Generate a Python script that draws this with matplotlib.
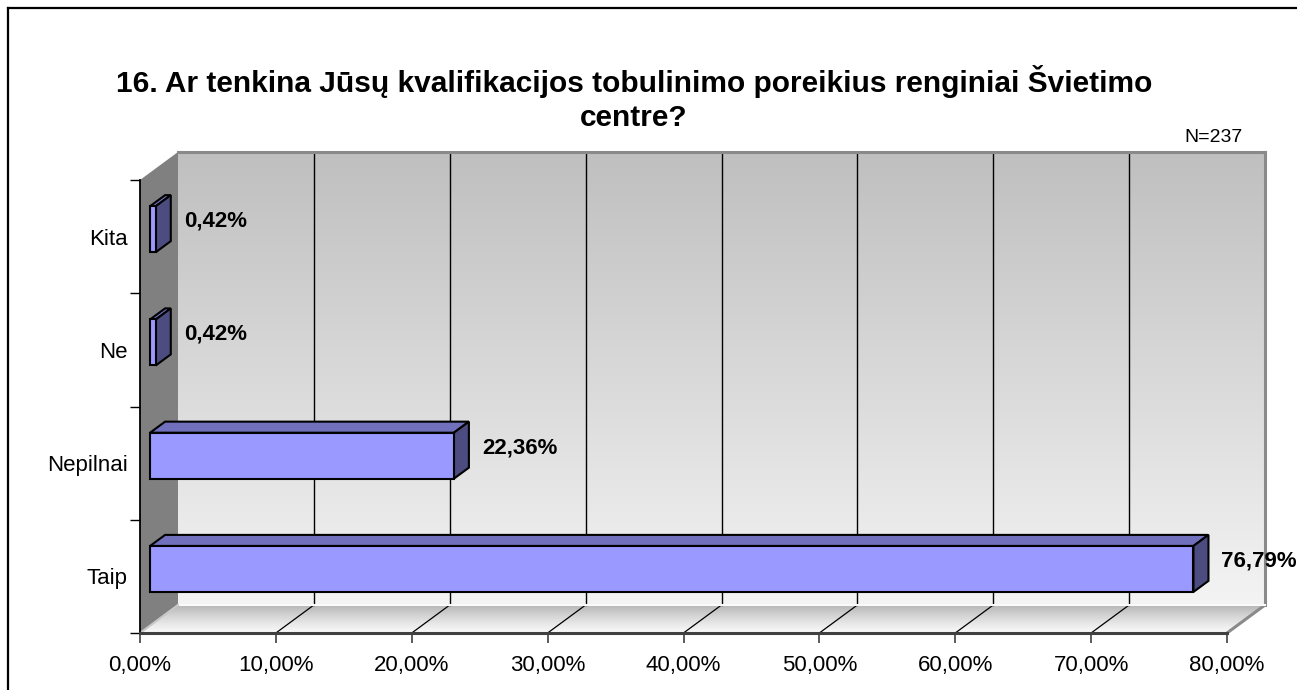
import matplotlib
matplotlib.use("Agg")
import matplotlib.pyplot as plt
import numpy as np
from matplotlib.patches import Polygon
from matplotlib.collections import PolyCollection
from matplotlib.transforms import Affine2D, IdentityTransform
from matplotlib.lines import Line2D

# ---------------- data ----------------
categories = ["Taip", "Nepilnai", "Ne", "Kita"]
values = [76.79, 22.36, 0.42, 0.42]
value_labels = ["76,79%", "22,36%", "0,42%", "0,42%"]
x_ticks = [0, 10, 20, 30, 40, 50, 60, 70, 80]
x_tick_labels = ["0,00%", "10,00%", "20,00%", "30,00%", "40,00%",
                 "50,00%", "60,00%", "70,00%", "80,00%"]
title_lines = ["16. Ar tenkina Jūsų kvalifikacijos tobulinimo poreikius renginiai Švietimo",
               "centre?"]
note = "N=237"

# ---------------- style ----------------
plt.rcParams['font.family'] = ['Liberation Sans', 'DejaVu Sans']
W, H = 1297, 690
DPI = 100
fig = plt.figure(figsize=(W / DPI, H / DPI), dpi=DPI)
fig.patch.set_facecolor("white")

ax = fig.add_axes([140 / W, (H - 633) / H, (1227 - 140) / W, (633 - 180) / H])
ax.patch.set_visible(False)

DX, DY = 38.0, 28.0          # depth of 3D box in pixels
BAR_F, BAR_B = 0.265, 0.66   # bar front / back depth fractions
BAR_H = 0.406                # bar thickness in category units

FRONT = "#9999FF"
TOP = "#7070BC"
SIDE = "#4C4C80"

ncat = len(categories)
xmin, xmax = x_ticks[0], x_ticks[-1]
ax.set_xlim(xmin, xmax)
ax.set_ylim(0, ncat)

ID = IdentityTransform()


def P(v, y, d=0.0):
    px, py = ax.transData.transform((v, y))
    return (px + d * DX, py + d * DY)


def poly(pts, **kw):
    p = Polygon(pts, closed=True, transform=ID, clip_on=False, **kw)
    ax.add_artist(p)
    return p


def line(p0, p1, **kw):
    l = Line2D([p0[0], p1[0]], [p0[1], p1[1]], transform=ID, clip_on=False, **kw)
    ax.add_artist(l)
    return l


# back wall gradient (top darker, bottom lighter)
grad = np.linspace(0.955, 0.75, 256).reshape(-1, 1)
ax.imshow(np.dstack([grad, grad, grad]), origin="lower", aspect="auto",
          extent=(xmin, xmax, 0, ncat), interpolation="bilinear",
          transform=ax.transData + Affine2D().translate(DX, DY),
          clip_on=False, zorder=0)
ax.set_xlim(xmin, xmax)
ax.set_ylim(0, ncat)

# floor gradient (back darker, front lighter) as thin strips
NS = 40
strips, cols = [], []
for k in range(NS):
    d0, d1 = k / NS, (k + 1) / NS
    strips.append([P(xmin, 0, d0), P(xmax, 0, d0), P(xmax, 0, d1), P(xmin, 0, d1)])
    g = 0.975 - 0.26 * ((k + 0.5) / NS) ** 1.3
    cols.append((g, g, g))
pc = PolyCollection(strips, facecolors=cols, edgecolors=cols, linewidths=0.6,
                    transform=ID, clip_on=False, zorder=0.5)
ax.add_artist(pc)

# left wall
poly([P(xmin, 0), P(xmin, ncat), P(xmin, ncat, 1), P(xmin, 0, 1)],
     facecolor="#808080", edgecolor="none", zorder=1)

# back wall gridlines
for t in x_ticks[1:-1]:
    line(P(t, 0, 1), P(t, ncat, 1), color="black", lw=1.0, zorder=1.2)
# floor diagonal lines
for t in x_ticks[1:-1]:
    line(P(t, 0), P(t, 0, 1), color="black", lw=0.9, zorder=1.2)

# edges
line(P(xmin, ncat, 1), P(xmax, ncat, 1), color="#8a8a8a", lw=2.2, zorder=1.3)
line(P(xmax, ncat, 1), P(xmax, 0, 1), color="#8a8a8a", lw=2.2, zorder=1.3)
line(P(xmax, 0), P(xmax, 0, 1), color="#8a8a8a", lw=2.2, zorder=1.3)
line(P(xmin, 0, 1), P(xmax, 0, 1), color="#fafafa", lw=1.5, zorder=1.3)
line(P(xmin, 0), P(xmin, 0, 1), color="#c8c8c8", lw=1.5, zorder=1.3)

# bars
for i, v in enumerate(values):
    yb = i + 0.5 - BAR_H / 2
    yt = i + 0.5 + BAR_H / 2
    kw = dict(edgecolor="black", lw=1.5, joinstyle="miter", zorder=3)
    poly([P(0, yt, BAR_F), P(v, yt, BAR_F), P(v, yt, BAR_B), P(0, yt, BAR_B)],
         facecolor=TOP, **kw)
    poly([P(v, yb, BAR_F), P(v, yb, BAR_B), P(v, yt, BAR_B), P(v, yt, BAR_F)],
         facecolor=SIDE, **kw)
    poly([P(0, yb, BAR_F), P(v, yb, BAR_F), P(v, yt, BAR_F), P(0, yt, BAR_F)],
         facecolor=FRONT, **kw)
    bx, _ = P(v, i + 0.5, BAR_B)
    _, by = P(v, i + 0.5, BAR_F)
    fig.text(bx + 13, by + 8, value_labels[i], transform=ID, ha="left", va="center",
             fontsize=16, fontweight="bold", color="black", zorder=4)

# axes, ticks
for s in ("top", "right"):
    ax.spines[s].set_visible(False)
ax.spines["bottom"].set_color("#404040")
ax.spines["bottom"].set_linewidth(2.2)
ax.spines["left"].set_color("black")
ax.spines["left"].set_linewidth(1.3)
ax.spines["bottom"].set_zorder(2)
ax.spines["left"].set_zorder(2)

ax.set_xticks(x_ticks)
ax.set_xticklabels(x_tick_labels)
ax.tick_params(axis="x", direction="out", length=7, width=1.2, color="#404040",
               labelsize=16, pad=9)
ax.set_yticks(range(ncat + 1))
ax.set_yticklabels([""] * (ncat + 1))
ax.tick_params(axis="y", which="major", direction="out", length=7, width=1, color="black")
ax.set_yticks([i + 0.5 for i in range(ncat)], minor=True)
ax.set_yticklabels(categories, minor=True)
ax.tick_params(axis="y", which="minor", length=0, labelsize=16, pad=9)

# title and note
fig.text(634 / W, 1 - 82 / H, title_lines[0], ha="center", va="center",
         fontsize=21.5, fontweight="bold")
fig.text(634 / W, 1 - 118 / H, title_lines[1], ha="center", va="center",
         fontsize=21.5, fontweight="bold")
fig.text(1214 / W, 1 - 138 / H, note, ha="center", va="center", fontsize=14)

# outer frame (top and left visible)
fig.add_artist(Line2D([8, 8], [-10, H - 8], transform=ID, color="black", lw=1.6))
fig.add_artist(Line2D([8, W + 10], [H - 8, H - 8], transform=ID, color="black", lw=1.6))

fig.savefig("out.png", dpi=DPI, facecolor="white")
